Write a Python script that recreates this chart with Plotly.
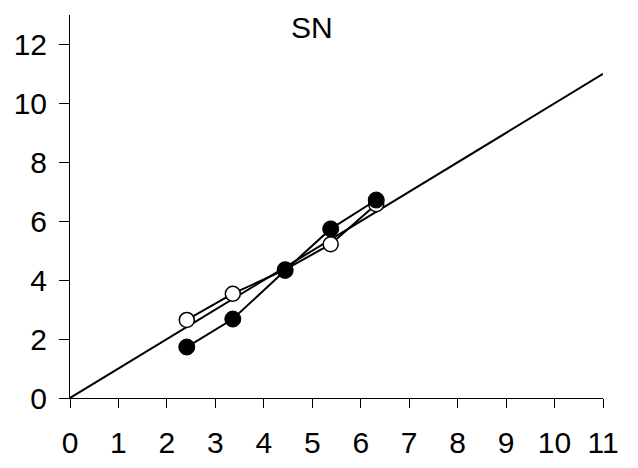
import plotly.graph_objects as go

# Data
x_vals = [2.41, 3.36, 4.44, 5.38, 6.32]
filled_y = [1.73, 2.68, 4.33, 5.74, 6.72]
open_y = [2.65, 3.54, 4.36, 5.22, 6.58]
diag_x = [0, 11]
diag_y = [0, 11]
x_ticks = list(range(0, 12))
y_ticks = list(range(0, 13, 2))
title_text = "SN"

FONT = "Liberation Sans, Arial, sans-serif"
FS = 30

# The page body adds an 8px margin; plot area targeted at page x 70..603, y 15..398
fig = go.Figure()
fig.add_trace(go.Scatter(x=diag_x, y=diag_y, mode="lines",
                         line=dict(color="black", width=2), showlegend=False,
                         hoverinfo="skip"))
fig.add_trace(go.Scatter(x=x_vals, y=open_y, mode="lines+markers",
                         line=dict(color="black", width=2),
                         marker=dict(symbol="circle", size=15, color="white",
                                     line=dict(color="black", width=1.5)),
                         showlegend=False))
fig.add_trace(go.Scatter(x=x_vals, y=filled_y, mode="lines+markers",
                         line=dict(color="black", width=2),
                         marker=dict(symbol="circle", size=16, color="black",
                                     line=dict(color="black", width=1)),
                         showlegend=False))

fig.update_layout(
    width=630, height=460,
    margin=dict(l=62, r=35, t=7, b=70),
    plot_bgcolor="white", paper_bgcolor="white",
    font=dict(family=FONT, size=FS, color="black"),
)
fig.add_annotation(text=title_text, x=(312 - 70) / 533, y=(398 - 27) / 383,
                   xref="paper", yref="paper", xanchor="center", yanchor="middle",
                   showarrow=False, font=dict(family=FONT, size=FS, color="black"))

fig.update_xaxes(range=[0, 11], tickvals=x_ticks, ticks="outside", ticklen=9,
                 tickcolor="black", tickwidth=1, showline=True, linecolor="black",
                 linewidth=1, showgrid=False, zeroline=False, ticklabelstandoff=9,
                 automargin=False)
fig.update_yaxes(range=[0, 13], tickvals=y_ticks, ticks="outside", ticklen=10,
                 tickcolor="black", tickwidth=1, showline=True, linecolor="black",
                 linewidth=1, showgrid=False, zeroline=False, ticklabelstandoff=6,
                 automargin=False)

fig.write_html("out.html")
